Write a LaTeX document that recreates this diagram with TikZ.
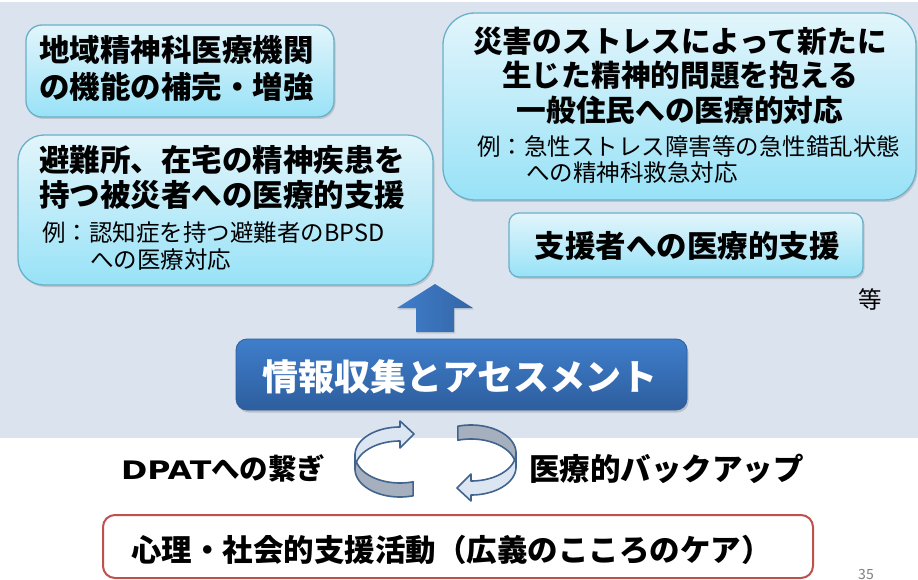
\documentclass[tikz,border=0pt]{standalone}
\usepackage{graphicx}
\usepackage{fontspec}
\setmainfont{Noto Sans CJK JP}
\newfontfamily\dejavu{DejaVu Sans}
\usetikzlibrary{shadows}
\definecolor{bgblue}{HTML}{DBE3EF}
\definecolor{ctop}{HTML}{E2F5FB}
\definecolor{cbot}{HTML}{98E2F7}
\definecolor{cborder}{HTML}{6AB0C8}
\definecolor{btop}{HTML}{3F7ECB}
\definecolor{bbot}{HTML}{2D5E9E}
\definecolor{arrright}{HTML}{3465A6}
\definecolor{ringc}{HTML}{41648E}
\definecolor{ringlight}{HTML}{DCE6F2}
\definecolor{ringdark}{HTML}{A5AFBD}
\definecolor{redb}{HTML}{C0504D}
\definecolor{pgnum}{HTML}{7F7F7F}
\tikzset{
  cbox/.style={draw=cborder, line width=1.3pt, top color=ctop, bottom color=cbot,
    inner sep=0pt, drop shadow={shadow xshift=1.5pt,shadow yshift=-2pt,opacity=.3}},
  bluebox/.style={draw=bbot, line width=0.8pt, top color=btop, bottom color=bbot,
    inner sep=0pt, drop shadow={shadow xshift=1.5pt,shadow yshift=-2.5pt,opacity=.35}},
  redbox/.style={draw=redb, line width=2pt, fill=white, inner sep=0pt},
  ttl/.style={font=\fontsize{30.5}{36}\selectfont\bfseries, inner sep=0pt, text=black},
  ttlb/.style={font=\fontsize{29.7}{36}\selectfont\bfseries, inner sep=0pt, text=black},
  exm/.style={font=\fontsize{23.5}{28}\selectfont, inner sep=0pt, text=black, anchor=west},
  ringline/.style={draw=ringc, line width=1.6pt, line join=round},
}
\begin{document}
\begin{tikzpicture}[x=1pt,y=-1pt]
\useasboundingbox (0,0) rectangle (918,580);
\clip (0,0) rectangle (918,580);
\fill[white] (0,0) rectangle (918,580);
\fill[bgblue] (0,2) rectangle (918,438);

% boxes
\node[cbox, minimum width=308pt, minimum height=92pt, rounded corners=16pt] (b1) at (180,71) {};
\node[cbox, minimum width=415pt, minimum height=150pt, rounded corners=26pt] (b2) at (225.5,210) {};
\node[cbox, minimum width=473pt, minimum height=187pt, rounded corners=32pt] (b3) at (679.5,106.5) {};
\node[cbox, minimum width=354pt, minimum height=64pt, rounded corners=10pt] (b4) at (686,245) {};

% texts box1
\node[ttl, anchor=west] (b1a) at (39,49.5) {地域精神科医療機関};
\node[ttl, anchor=west] (b1b) at (39,86.5) {の機能の補完・増強};
% texts box2
\node[ttl, anchor=west] (b2a) at (39,159.5) {避難所、在宅の精神疾患を};
\node[ttl, anchor=west] (b2b) at (39,195) {持つ被災者への医療的支援};
\node[exm] (b2c) at (42,233) {例：認知症を持つ避難者のBPSD};
\node[exm] (b2d) at (90,260) {への医療対応};
% texts box3
\node[ttlb] (b3a) at (680,41) {災害のストレスによって新たに};
\node[ttlb] (b3b) at (680,75) {生じた精神的問題を抱える};
\node[ttlb] (b3c) at (680,110) {一般住民への医療的対応};
\node[exm] (b3d) at (477,147) {例：急性ストレス障害等の急性錯乱状態};
\node[exm] (b3e) at (526,173) {への精神科救急対応};
% box4
\node[ttl] (b4a) at (687,246) {支援者への医療的支援};
% etc
\node[font=\fontsize{23.5}{28}\selectfont, inner sep=0pt] (etc) at (870,299.5) {等};

% up arrow
\shade[left color=btop, right color=arrright,
  drop shadow={shadow xshift=1pt,shadow yshift=-1.5pt,opacity=.25}]
  (435,284) -- (473,308) -- (454,308) -- (454,332) -- (416,332) -- (416,308) -- (397,308) -- cycle;

% blue box
\node[bluebox, minimum width=451pt, minimum height=71pt, rounded corners=11pt] (blue) at (461.5,374.5) {};
\node[font=\fontsize{36}{40}\selectfont\bfseries, text=white, inner sep=0pt] (bluet) at (460,377) {情報収集とアセスメント};

% circular arrows
\foreach \rot in {0,180}{
\begin{scope}[rotate around={\rot:(435.5,461)}]
\filldraw[ringline, fill=ringdark]
  plot[domain=180:287, samples=40] ({400+45*cos(\x)},{455-28*sin(\x)})
  -- plot[domain=287:180, samples=40] ({400+45*cos(\x)},{469-28*sin(\x)}) -- cycle;
\filldraw[ringline, fill=ringlight]
  (400,427) -- (400,421) -- (414,434) -- (400,448) -- (400,441)
  -- plot[domain=90:180, samples=40] ({400+45*cos(\x)},{469-28*sin(\x)})
  -- plot[domain=180:90, samples=40] ({400+45*cos(\x)},{455-28*sin(\x)}) -- cycle;
\end{scope}
}

\node[font=\fontsize{28.5}{32}\selectfont\bfseries, inner sep=0pt, anchor=west] (dpat) at (121,468)
  {{\dejavu\bfseries\fontsize{25.5}{30}\selectfont\scalebox{1.24}[1]{DPAT}}への繋ぎ};
\node[font=\fontsize{30.5}{34}\selectfont\bfseries, inner sep=0pt, anchor=west] (backup) at (529,469) {医療的バックアップ};

% red box
\node[redbox, minimum width=710pt, minimum height=63pt, rounded corners=12pt] (red) at (458,546.5) {};
\node[ttl, anchor=west] (redt) at (131,550) {心理・社会的支援活動（広義のこころのケア）};

\node[font=\fontsize{14}{16}\selectfont, text=pgnum, inner sep=0pt] (pg) at (866,574.5) {35};
\end{tikzpicture}
\end{document}
